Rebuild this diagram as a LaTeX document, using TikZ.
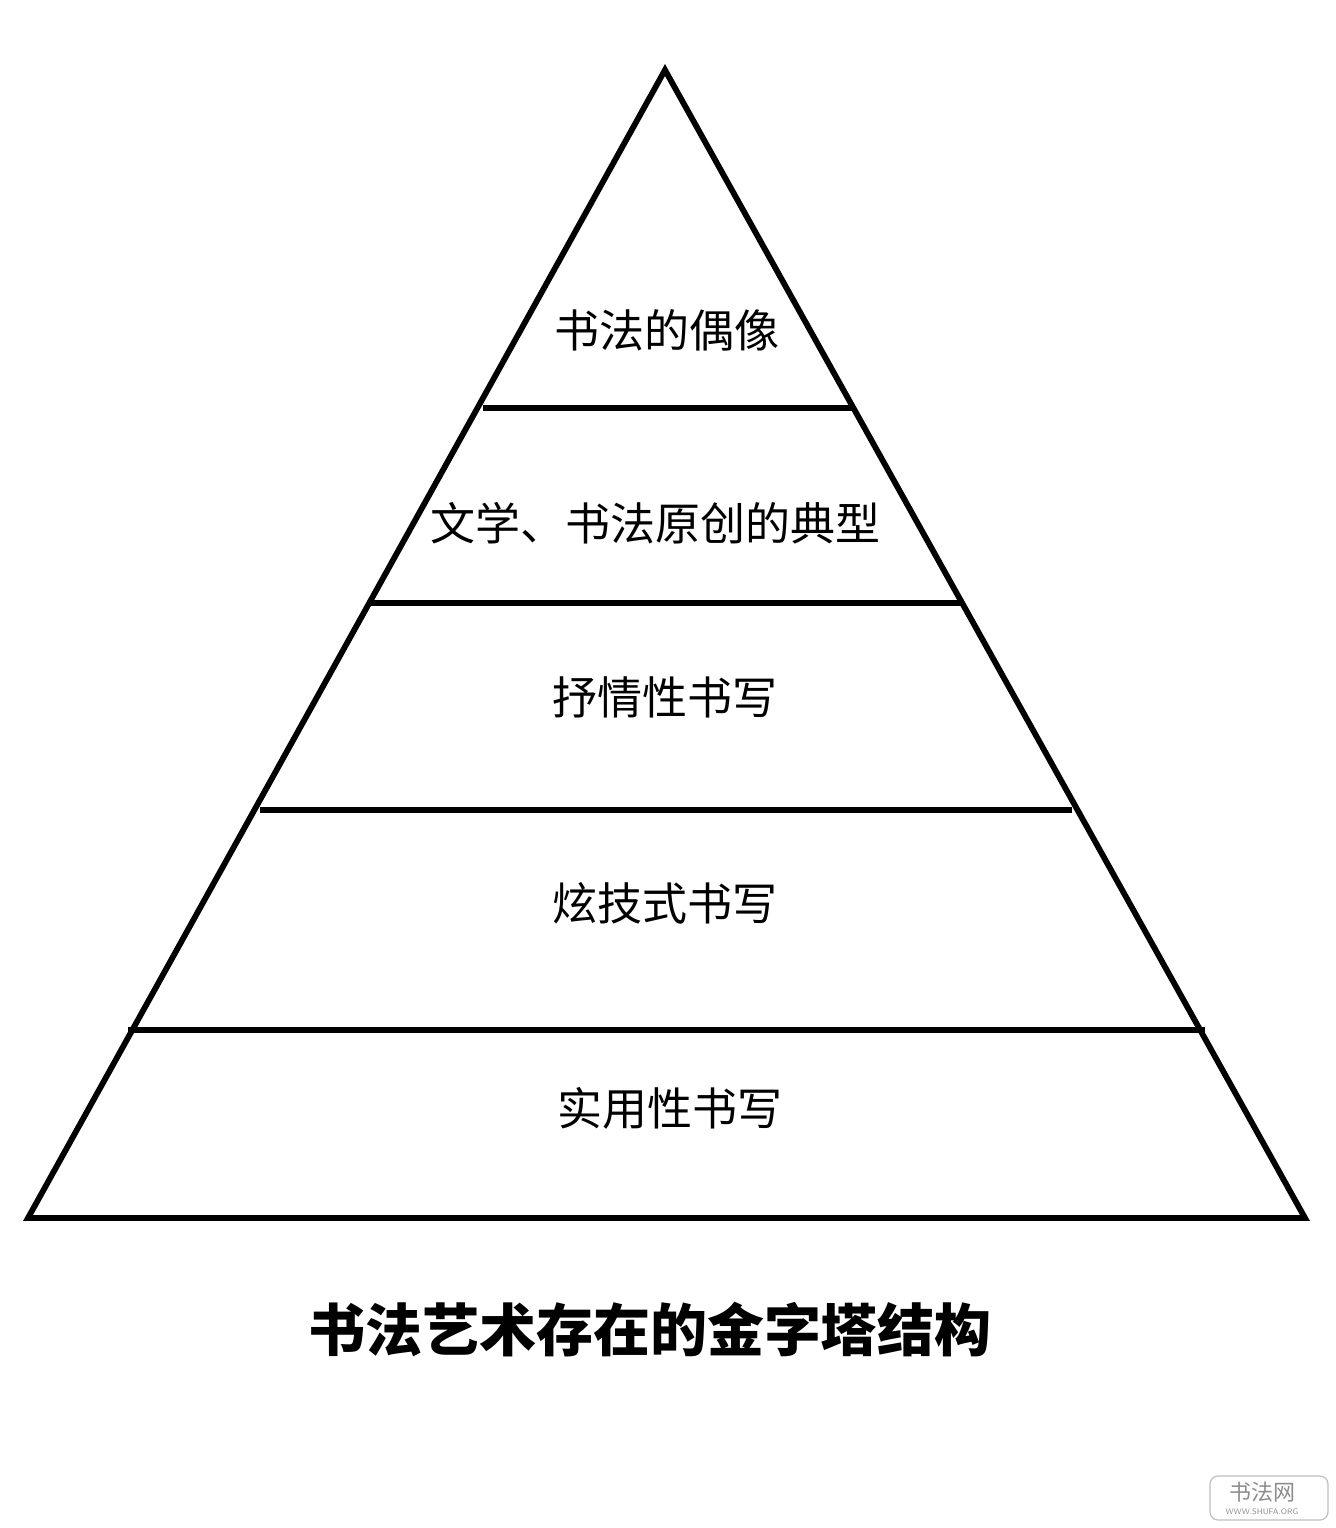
\documentclass[tikz,border=0pt]{standalone}
\usepackage{fontspec}
\newfontfamily\cjk{Noto Sans CJK SC}
\begin{document}
\begin{tikzpicture}[x=0.5pt, y=-0.5pt,
    edge/.style={line width=2.9pt, line cap=round, line join=miter},
    level/.style={font=\cjk\fontsize{22.5}{22.5}\selectfont, inner sep=0pt},
    stampbox/.style={draw=black!25, rounded corners=4pt, line width=0.6pt}]
  \useasboundingbox (0, 0) rectangle (1336, 1528);

    \coordinate (top) at (665, 70);
    \coordinate (bl) at (28, 1218);
    \coordinate (br) at (1305, 1218);
    \draw[edge] (bl) -- (top) -- (br) -- cycle;

    % dividing lines
    \coordinate (l1) at (483, 408);   \coordinate (r1) at (852, 408);
    \coordinate (l2) at (370, 603);   \coordinate (r2) at (962, 603);
    \coordinate (l3) at (260, 810);   \coordinate (r3) at (1072, 810);
    \coordinate (l4) at (128, 1030);  \coordinate (r4) at (1205, 1030);
    \draw[edge, line cap=butt] (l1) -- (r1);
    \draw[edge, line cap=butt] (l2) -- (r2);
    \draw[edge, line cap=butt] (l3) -- (r3);
    \draw[edge, line cap=butt] (l4) -- (r4);

    \node[level] (idol) at (667, 330){书法的偶像};
    \node[level] (model) at (655, 523){文学、书法原创的典型};
    \node[level] (lyric) at (665, 697){抒情性书写};
    \node[level] (show) at (665, 903){炫技式书写};
    \node[level] (use) at (670, 1108){实用性书写};

    \node[font=\cjk\bfseries\fontsize{28.5}{28.5}\selectfont, inner sep=0pt] (title) at (650, 1330){书法艺术存在的金字塔结构};

    % watermark
    \draw[stampbox] (1210, 1476) rectangle (1328, 1520);
    \node[text=black!45, font=\cjk\fontsize{11}{11}\selectfont, inner sep=0pt] (logo) at (1262, 1492){书法网};
    \node[text=black!45, font=\sffamily\fontsize{4}{4}\selectfont, inner sep=0pt] (site) at (1262, 1512){WWW.SHUFA.ORG};
\end{tikzpicture}
\end{document}
